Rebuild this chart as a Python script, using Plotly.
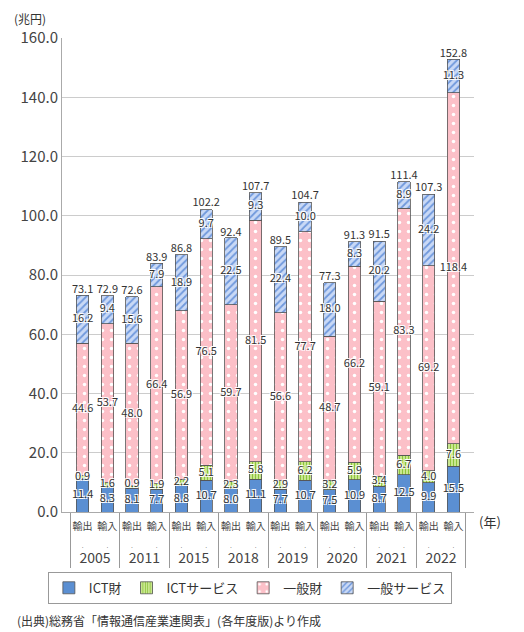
import plotly.graph_objects as go

years = ["2005", "2011", "2015", "2018", "2019", "2020", "2021", "2022"]
flows = ["輸出", "輸入"]

ict_goods_ex = [11.4, 8.1, 8.8, 8.0, 7.7, 7.5, 8.7, 9.9]
ict_goods_im = [8.3, 7.7, 10.7, 11.1, 10.7, 10.9, 12.5, 15.5]
ict_serv_ex = [0.9, 0.9, 2.2, 2.3, 2.9, 3.2, 3.4, 4.0]
ict_serv_im = [1.6, 1.9, 5.1, 5.8, 6.2, 5.9, 6.7, 7.6]
gen_goods_ex = [44.6, 48.0, 56.9, 59.7, 56.6, 48.7, 59.1, 69.2]
gen_goods_im = [53.7, 66.4, 76.5, 81.5, 77.7, 66.2, 83.3, 118.4]
gen_serv_ex = [16.2, 15.6, 18.9, 22.5, 22.4, 18.0, 20.2, 24.2]
gen_serv_im = [9.4, 7.9, 9.7, 9.3, 10.0, 8.3, 8.9, 11.3]
total_ex = [73.1, 72.6, 86.8, 92.4, 89.5, 77.3, 91.5, 107.3]
total_im = [72.9, 83.9, 102.2, 107.7, 104.7, 91.3, 111.4, 152.8]


def interleave(ex, im):
    out = []
    for a, b in zip(ex, im):
        out += [a, b]
    return out


outer = [y for y in years for _ in flows]
# second, tiny line only pads the inner row so the years sit lower
inner = [f"<span style='font-size:10px'>{f}</span><br><span style='font-size:5px'>.</span>"
         for _ in years for f in flows]
x = [outer, inner]

ict_goods = interleave(ict_goods_ex, ict_goods_im)
ict_serv = interleave(ict_serv_ex, ict_serv_im)
gen_goods = interleave(gen_goods_ex, gen_goods_im)
gen_serv = interleave(gen_serv_ex, gen_serv_im)
totals = interleave(total_ex, total_im)

series = [
    ("ICT財", ict_goods, dict(color="#5b8fd2")),
    ("ICTサービス", ict_serv, dict(color="#d6eea0",
                                 pattern=dict(shape="|", fgcolor="#8cc43c", bgcolor="#d6eea0",
                                              size=3, solidity=0.45, fillmode="replace"))),
    ("一般財", gen_goods, dict(color="#fcc0c8",
                             pattern=dict(shape=".", fgcolor="#ffffff", bgcolor="#fcc0c8",
                                          size=9, solidity=0.12, fillmode="replace"))),
    ("一般サービス", gen_serv, dict(color="#c9d9f6",
                                 pattern=dict(shape="/", fgcolor="#6f98dc", bgcolor="#c9d9f6",
                                              size=5, solidity=0.35, fillmode="replace"))),
]

halo = "-1px -1px 0 #fff, 1px -1px 0 #fff, -1px 1px 0 #fff, 1px 1px 0 #fff"
label_font = dict(family="Liberation Sans Narrow, Noto Sans CJK JP", size=11, color="#333",
                  shadow=halo)

fig = go.Figure()
base = [0.0] * len(totals)
for name, vals, marker in series:
    marker = dict(marker, line=dict(color="#555555", width=0.8))
    fig.add_trace(go.Bar(x=x, y=vals, name=name, marker=marker, width=0.5))
    mids = [b + v / 2 for b, v in zip(base, vals)]
    if name == "ICTサービス":
        # keep the small segment's label clear of the ICT財 label below it
        mids = [max(m, g / 2 + 5.2) for m, g in zip(mids, ict_goods)]
    fig.add_trace(go.Scatter(x=x, y=mids, mode="text", text=[f"{v:.1f}" for v in vals],
                             textfont=label_font, showlegend=False, hoverinfo="skip"))
    base = [b + v for b, v in zip(base, vals)]

fig.add_trace(go.Scatter(x=x, y=totals, mode="text", text=[f"{v:.1f}" for v in totals],
                         textposition="top center", textfont=label_font,
                         showlegend=False, hoverinfo="skip"))

# the page adds an 8px body margin, so the figure is drawn 8px smaller
fig.update_layout(
    barmode="stack",
    width=516, height=624,
    margin=dict(l=54, r=50, t=30, b=120),
    plot_bgcolor="white", paper_bgcolor="white",
    font=dict(family="Noto Sans CJK JP", color="#333", size=13),
    legend=dict(orientation="h", x=0.456, xanchor="center", y=-0.16, yanchor="middle",
                bordercolor="#999", borderwidth=1, font=dict(size=13),
                itemwidth=30, traceorder="normal"),
    annotations=[
        dict(text="(兆円)", xref="paper", yref="paper", x=-0.078, y=1.042,
             xanchor="center", yanchor="middle", showarrow=False, font=dict(size=12)),
        dict(text="(年)", xref="paper", yref="paper", x=1.039, y=-0.021,
             xanchor="center", yanchor="middle", showarrow=False, font=dict(size=13)),
        dict(text="(出典)総務省「情報通信産業連関表」(各年度版)より作成", xref="paper", yref="paper",
             x=-0.114, y=-0.228, xanchor="left", yanchor="middle", showarrow=False,
             font=dict(size=12)),
    ],
)
fig.update_yaxes(range=[0, 160], dtick=20, tickformat=".1f", gridcolor="#cccccc",
                 showline=True, linecolor="#aaaaaa", tickfont=dict(size=15, color="#444"),
                 zeroline=False)
fig.update_xaxes(type="multicategory", showline=True, linecolor="#aaaaaa", tickangle=0,
                 showdividers=True, dividercolor="#999", dividerwidth=1,
                 tickfont=dict(size=14, color="#444"))

fig.write_html("out.html")
